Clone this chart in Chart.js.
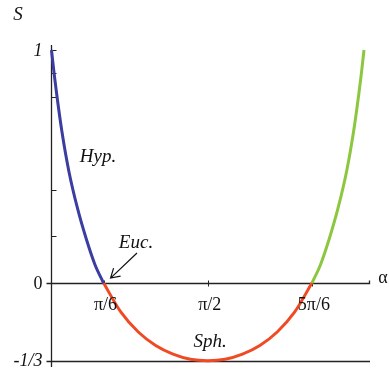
<!DOCTYPE html>
<html>
<head>
<meta charset="utf-8">
<script src="https://cdn.jsdelivr.net/npm/chart.js@4/dist/chart.umd.min.js"></script>
<style>
  html, body { margin: 0; padding: 0; background: #fff; }
  #wrap { width: 389px; height: 373px; }
</style>
</head>
<body>
<div id="wrap"><canvas id="chart" width="389" height="373"></canvas></div>
<script>
// alpha in degrees, S
var hypAlpha = [0, 1.5, 3, 6, 10, 15, 20, 25, 30]
var hypS = [1, 0.9, 0.81, 0.65, 0.48, 0.32, 0.19, 0.08, 0]

var sphAlpha = [30, 40, 50, 60, 70, 80, 90, 100, 110, 120, 130, 140, 150]
var sphS = [0, -0.125, -0.21, -0.268, -0.305, -0.327, -0.333, -0.327, -0.305, -0.268, -0.21, -0.125, 0]

var eucAlpha = [150, 155, 160, 165, 170, 174, 177, 178.5, 180]
var eucS = [0, 0.08, 0.19, 0.32, 0.48, 0.65, 0.81, 0.9, 1]

var xTickValues = [30, 90, 150]
var xTickLabels = ["π/6", "π/2", "5π/6"]
var yTickValues = [1, 0.9, 0.8, 0.4, 0.2]
var yLabelValues = [1, 0, -1 / 3]
var yLabels = ["1", "0", "-1/3"]

var SERIF = "'Liberation Serif', 'DejaVu Serif', serif"

function toPoints(xs, ys) {
  return xs.map(function (x, i) { return { x: x, y: ys[i] } })
}

function curve(label, xs, ys, color) {
  return {
    label: label,
    data: toPoints(xs, ys),
    borderColor: color,
    borderWidth: 3,
    pointRadius: 0,
    fill: false,
    cubicInterpolationMode: "monotone",
    borderCapStyle: "butt",
  }
}

var axesPlugin = {
  id: "axes",
  beforeDatasetsDraw: function (chart) {
    var ctx = chart.ctx
    var xs = chart.scales.x
    var ys = chart.scales.y
    var area = chart.chartArea
    var x0 = Math.round(xs.getPixelForValue(0)) + 0.5
    var y0 = Math.round(ys.getPixelForValue(0)) + 0.5
    var yb = Math.round(ys.getPixelForValue(-1 / 3)) + 0.5
    var xEnd = Math.round(xs.getPixelForValue(183)) + 0.5
    ctx.save()
    ctx.strokeStyle = "#222"
    ctx.lineWidth = 1.3
    ctx.beginPath()
    // vertical S axis
    ctx.moveTo(x0, area.top)
    ctx.lineTo(x0, area.bottom - 3)
    // alpha axis with end tick
    ctx.moveTo(x0 - 5, y0)
    ctx.lineTo(xEnd, y0)
    ctx.lineTo(xEnd, y0 - 3)
    // bottom line at -1/3
    ctx.moveTo(x0 - 5, yb)
    ctx.lineTo(area.right - 15, yb)
    ctx.stroke()

    ctx.lineWidth = 1
    ctx.beginPath()
    yTickValues.forEach(function (v) {
      var py = Math.round(ys.getPixelForValue(v)) + 0.5
      ctx.moveTo(x0, py)
      ctx.lineTo(x0 + 5, py)
    })
    xTickValues.forEach(function (v) {
      var px = Math.round(xs.getPixelForValue(v)) + 0.5
      ctx.moveTo(px, y0 - 3)
      ctx.lineTo(px, y0 + 3)
    })
    ctx.stroke()
    ctx.restore()
  },
  afterDatasetsDraw: function (chart) {
    var ctx = chart.ctx
    var xs = chart.scales.x
    var ys = chart.scales.y
    var x0 = xs.getPixelForValue(0)
    var y0 = ys.getPixelForValue(0)
    ctx.save()
    ctx.fillStyle = "#111"
    ctx.textAlign = "center"
    ctx.textBaseline = "middle"

    ctx.font = "18px " + SERIF
    xTickValues.forEach(function (v, i) {
      ctx.fillText(xTickLabels[i], xs.getPixelForValue(v) + 2, y0 + 22)
    })
    ctx.fillText("α", 383, y0 - 5)

    ctx.textAlign = "right"
    yLabelValues.forEach(function (v, i) {
      ctx.font = (yLabels[i] === "0" ? "" : "italic ") + "18px " + SERIF
      ctx.fillText(yLabels[i], x0 - 9, ys.getPixelForValue(v) + 1)
    })

    ctx.textAlign = "center"
    ctx.font = "italic 19px " + SERIF
    ctx.fillText("S", 18, 15)
    ctx.fillText("Hyp.", 98, 157)
    ctx.fillText("Euc.", 136, 243)
    ctx.fillText("Sph.", 210, 342)

    // arrow pointing at the Euclidean point
    var tipX = xs.getPixelForValue(30) + 7
    var tipY = y0 - 5
    ctx.strokeStyle = "#111"
    ctx.lineWidth = 1.2
    ctx.beginPath()
    ctx.moveTo(137, 253)
    ctx.lineTo(tipX, tipY)
    ctx.moveTo(tipX + 10, tipY - 2)
    ctx.lineTo(tipX, tipY)
    ctx.lineTo(tipX + 3, tipY - 10)
    ctx.stroke()
    ctx.restore()
  },
}

var chart = new Chart(document.getElementById("chart").getContext("2d"), {
  type: "line",
  data: {
    datasets: [
      curve("Hyp.", hypAlpha, hypS, "#3b3da0"),
      curve("Sph.", sphAlpha, sphS, "#f04a25"),
      curve("Euc.", eucAlpha, eucS, "#8dc63f"),
    ],
  },
  options: {
    responsive: false,
    animation: false,
    devicePixelRatio: 1,
    layout: { padding: { left: 40, right: 4, top: 45, bottom: 3 } },
    plugins: { legend: { display: false }, tooltip: { enabled: false } },
    scales: {
      x: { type: "linear", min: -6.62, max: 192.1, display: false },
      y: { type: "linear", min: -0.373, max: 1.0215, display: false },
    },
  },
  plugins: [axesPlugin],
})
</script>
</body>
</html>
